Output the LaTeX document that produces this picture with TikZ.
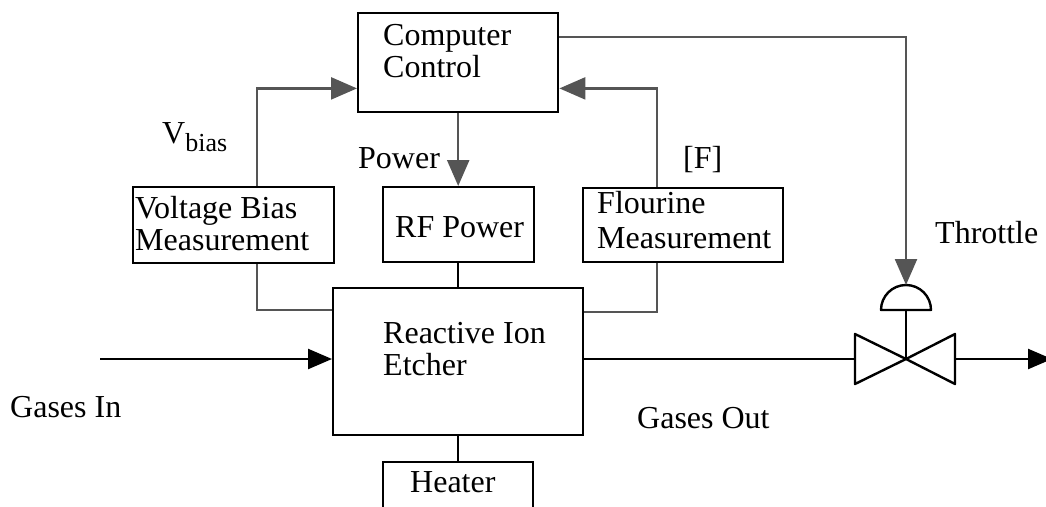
\documentclass[tikz,border=0pt]{standalone}
\usepackage{fontspec}
\setmainfont{Liberation Serif}
\usetikzlibrary{arrows.meta,calc}
\definecolor{sigGray}{RGB}{85,85,85}

\begin{document}
\begin{tikzpicture}[
    x=1pt, y=-1pt,
    box/.style={rectangle, draw, line width=2.4pt, anchor=north west, inner sep=0pt},
    txt/.style={anchor=base west, inner sep=0pt, align=left, font=\fontsize{32}{32}\selectfont},
    sig/.style={draw=sigGray, line width=2.4pt, -{Triangle[length=26pt, width=22pt, fill=sigGray]}},
    sigline/.style={draw=sigGray, line width=2.4pt},
    pipe/.style={draw, line width=2.4pt},
    flow/.style={pipe, -{Triangle[length=24pt, width=20pt]}}
]
    \useasboundingbox (0,0) rectangle (1046,506);

    % Blocks
    \node[box, minimum width=200pt, minimum height=99pt] (cc) at (357,12) {};
    \node[box, minimum width=201pt, minimum height=76pt] (vbias) at (132,186) {};
    \node[box, minimum width=151pt, minimum height=75pt] (rfpower) at (382,186) {};
    \node[box, minimum width=200pt, minimum height=74pt] (fluor) at (582,187) {};
    \node[box, minimum width=250pt, minimum height=147pt] (etcher) at (332,287) {};
    \node[box, minimum width=150pt, minimum height=60pt] (heater) at (382,461) {};

    % Block texts (base = last line)
    \node[txt] (cctext) at (383,77) {Computer\\Control};
    \node[txt] (vbtext) at (135,250) {Voltage Bias\\Measurement};
    \node[txt] (rftext) at (395,237) {RF Power};
    \node[txt] (fltext) at (597,248) {Flourine\\[3pt]Measurement};
    \node[txt] (ettext) at (383,375) {Reactive Ion\\Etcher};
    \node[txt] (httext) at (410,492) {Heater};

    % Signal labels
    \node[txt] (vblabel) at (162,143) {V\raisebox{-8pt}{\fontsize{26}{26}\selectfont bias}};
    \node[txt] (pwlabel) at (358,168) {Power};
    \node[txt] (flabel) at (683,168) {[F]};
    \node[txt] (thlabel) at (935,243) {Throttle};
    \node[txt] (ginlabel) at (10,417) {Gases In};
    \node[txt] (goutlabel) at (637,428) {Gases Out};

    % Throttle valve
    \coordinate (valvec) at (906,359);
    \coordinate (valvein) at (855,359);
    \coordinate (valveout) at (955,359);
    \coordinate (domebase) at (906,310);
    \coordinate (act) at (906,285);
    \draw[pipe, line join=round] (valvein) ++(0,-25) -- ++(0,50) -- (valvec) -- cycle;
    \draw[pipe, line join=round] (valveout) ++(0,-25) -- ++(0,50) -- (valvec) -- cycle;
    \draw[pipe] (valvec) -- (domebase);
    \draw[pipe, line join=round] (domebase) ++(-25,0) arc[start angle=180, end angle=360, radius=25] -- cycle;

    % Gas flow
    \coordinate (gin) at (100,359);
    \coordinate (gout) at (1052,359);
    \draw[flow] (gin) -- (gin -| etcher.west);
    \draw[pipe] (etcher.east |- gin) -- (valvein);
    \draw[flow] (valveout) -- (gout);

    % Measurement and control signals
    \draw[sig] ([xshift=125pt]vbias.north west) |- ([yshift=25pt]cc.south west);
    \draw[sig] ([xshift=75pt]fluor.north west) |- ([yshift=25pt]cc.south east);
    \draw[sig] (cc.south) -- (cc.south |- rfpower.north);
    \draw[sig] ([yshift=-25pt]cc.north east) -| (act);
    \draw[sigline] ([xshift=125pt]vbias.south west) |- ([yshift=-23pt]etcher.north west);
    \draw[sigline] ([xshift=75pt]fluor.south west) |- ([yshift=-25pt]etcher.north east);

    % Power and heater feeds
    \draw[pipe] (cc.south |- rfpower.south) -- (cc.south |- etcher.north);
    \draw[pipe] (heater.north |- etcher.south) -- (heater.north);
\end{tikzpicture}
\end{document}
